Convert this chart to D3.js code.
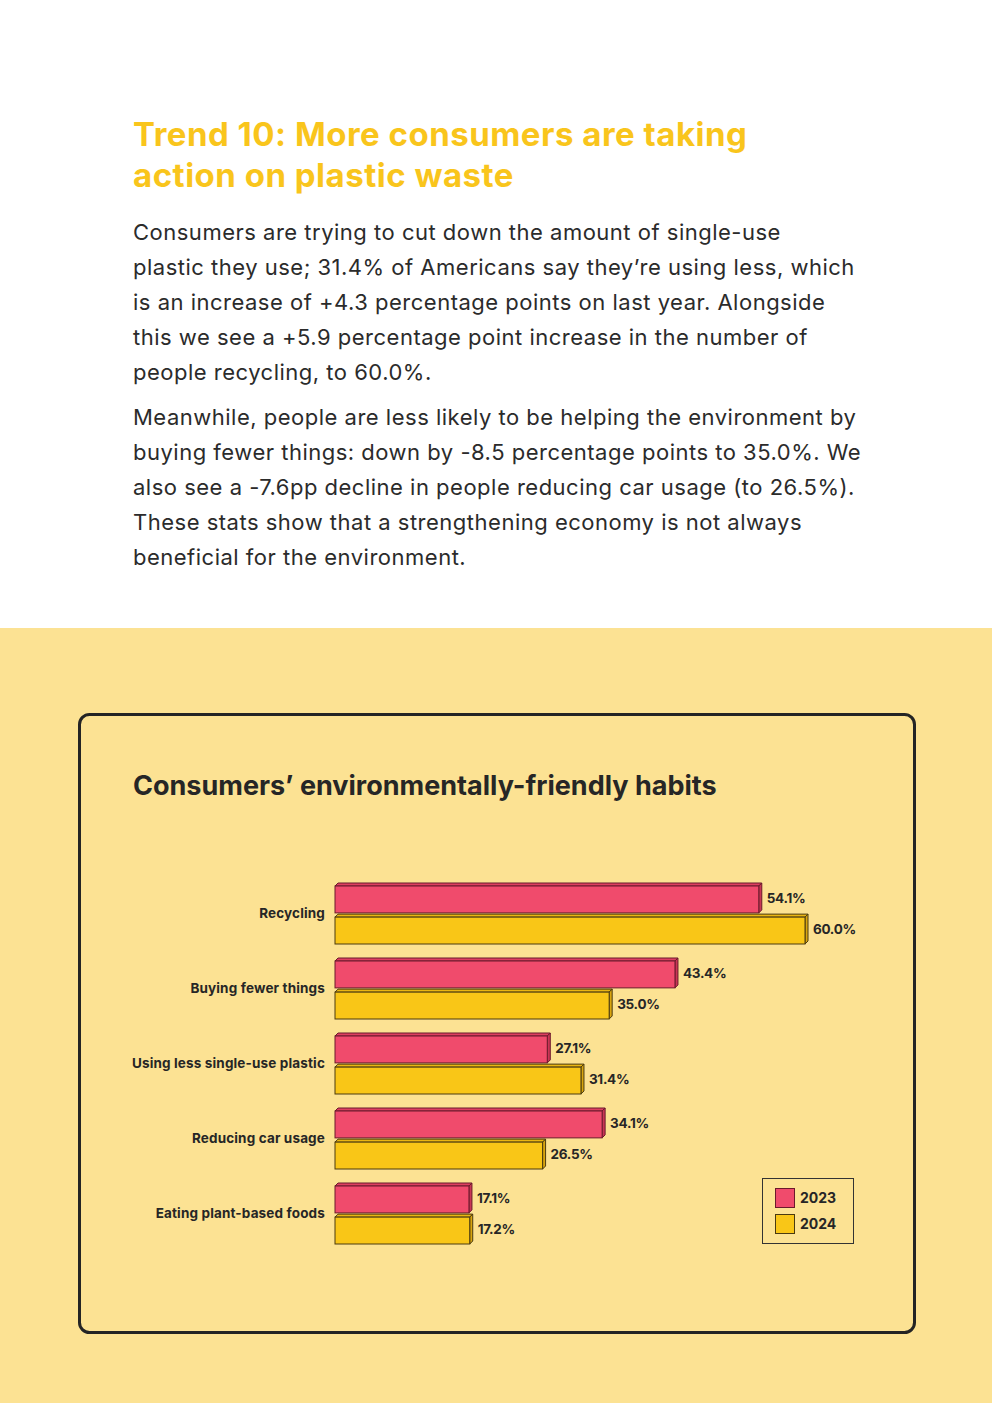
<!DOCTYPE html>
<html><head><meta charset="utf-8">
<script src="https://cdn.jsdelivr.net/npm/d3@7"></script>
<style>
html,body{margin:0;padding:0;background:#fff;}
svg{display:block;}
</style></head>
<body>
<svg id="c" width="992" height="1403"></svg>
<script>
const titleLines = ["Trend 10: More consumers are taking", "action on plastic waste"];
const para1 = ["Consumers are trying to cut down the amount of single-use",
 "plastic they use; 31.4% of Americans say they\u2019re using less, which",
 "is an increase of +4.3 percentage points on last year. Alongside",
 "this we see a +5.9 percentage point increase in the number of",
 "people recycling, to 60.0%."];
const para2 = ["Meanwhile, people are less likely to be helping the environment by",
 "buying fewer things: down by -8.5 percentage points to 35.0%. We",
 "also see a -7.6pp decline in people reducing car usage (to 26.5%).",
 "These stats show that a strengthening economy is not always",
 "beneficial for the environment."];
const chartTitle = "Consumers\u2019 environmentally-friendly habits";
const categories = ["Recycling", "Buying fewer things", "Using less single-use plastic", "Reducing car usage", "Eating plant-based foods"];
const seriesNames = ["2023", "2024"];
const values2023 = [54.1, 43.4, 27.1, 34.1, 17.1];
const values2024 = [60.0, 35.0, 31.4, 26.5, 17.2];

const svg = d3.select("#c");
const FONT = "Inter, 'Noto Sans', sans-serif";
const dark = "#262626";

// backgrounds
svg.append("rect").attr("x",0).attr("y",0).attr("width",992).attr("height",628).attr("fill","#fff");
svg.append("rect").attr("x",0).attr("y",628).attr("width",992).attr("height",775).attr("fill","#FCE293");

// heading
svg.append("g").selectAll("text").data(titleLines).join("text")
  .attr("x",133).attr("y",(d,i)=>146+i*41)
  .attr("font-family",FONT).attr("font-weight",700).attr("font-size",33).attr("letter-spacing",0.5)
  .attr("fill","#F9C51C").text(d=>d);

// body text
const bodyLines = para1.map((t,i)=>({t,y:240+i*35})).concat(para2.map((t,i)=>({t,y:425+i*35})));
svg.append("g").selectAll("text").data(bodyLines).join("text")
  .attr("x",133).attr("y",d=>d.y)
  .attr("font-family",FONT).attr("font-weight",400).attr("font-size",22).attr("letter-spacing",0.5)
  .attr("fill","#2b2b2b").text(d=>d.t);

// card
svg.append("rect").attr("x",79.5).attr("y",714.5).attr("width",835).attr("height",618).attr("rx",10)
  .attr("fill","none").attr("stroke","#242424").attr("stroke-width",3);

svg.append("text").attr("x",133).attr("y",795)
  .attr("font-family",FONT).attr("font-weight",700).attr("font-size",27).attr("letter-spacing",0)
  .attr("fill",dark).text(chartTitle);

// scales
const x = d3.scaleLinear().domain([0,60]).range([335,805]);
const y = d3.scaleBand().domain(categories).range([883,1258]).paddingInner(0).paddingOuter(0);
const sub = d3.scaleBand().domain(seriesNames).range([0,61]).paddingInner(0.04);

const series = [
  {name:"2023", vals:values2023, front:"#F04B6C", top:"#DE3F60", side:"#C93555", stroke:"#6B1A2C"},
  {name:"2024", vals:values2024, front:"#F9C617", top:"#EBB612", side:"#D9A50F", stroke:"#4A3A10"}
];
const D = 3;
const g = svg.append("g");
series.forEach(s=>{
  const rows = categories.map((c,i)=>({c, v:s.vals[i]}));
  const grp = g.append("g");
  rows.forEach(r=>{
    const x0 = x(0), x1 = x(r.v);
    const yt = y(r.c) + sub(s.name);
    const yf = yt + D, yb = yt + sub.bandwidth();
    grp.append("polygon").attr("points",[[x0,yf],[x0+D,yt],[x1+D,yt],[x1,yf]].join(" "))
      .attr("fill",s.top).attr("stroke",s.stroke).attr("stroke-width",1).attr("stroke-linejoin","round");
    grp.append("polygon").attr("points",[[x1,yf],[x1+D,yt],[x1+D,yb-D],[x1,yb]].join(" "))
      .attr("fill",s.side).attr("stroke",s.stroke).attr("stroke-width",1).attr("stroke-linejoin","round");
    grp.append("rect").attr("x",x0).attr("y",yf).attr("width",x1-x0).attr("height",yb-yf)
      .attr("fill",s.front).attr("stroke",s.stroke).attr("stroke-width",1);
    grp.append("text").attr("x",x1+D+5).attr("y",(yf+yb)/2-1.5).attr("dy","0.35em")
      .attr("font-family",FONT).attr("font-weight",700).attr("font-size",13.5).attr("letter-spacing",-0.3)
      .attr("fill",dark).text(r.v.toFixed(1)+"%");
  });
});

// category labels
const yAxis = d3.axisLeft(y).tickSize(0).tickPadding(10);
const ax = svg.append("g").attr("transform","translate(335,0)").call(yAxis);
ax.select(".domain").remove();
ax.selectAll("text").attr("font-family",FONT).attr("font-weight",700).attr("font-size",13.5)
  .attr("letter-spacing",0.15).attr("fill",dark).attr("dy","0.32em").attr("y",0);
ax.selectAll(".tick").attr("transform",d=>`translate(0,${y(d)+31})`);

// legend
const lg = svg.append("g");
lg.append("rect").attr("x",762.5).attr("y",1178.5).attr("width",91).attr("height",65)
  .attr("fill","none").attr("stroke","#333").attr("stroke-width",1);
series.forEach((s,i)=>{
  lg.append("rect").attr("x",775.5).attr("y",1188.5+i*26).attr("width",19).attr("height",19)
    .attr("fill",s.front).attr("stroke",s.stroke).attr("stroke-width",1);
  lg.append("text").attr("x",800).attr("y",1198+i*26).attr("dy","0.35em")
    .attr("font-family",FONT).attr("font-weight",700).attr("font-size",14)
    .attr("fill",dark).text(s.name);
});
</script>
</body></html>
